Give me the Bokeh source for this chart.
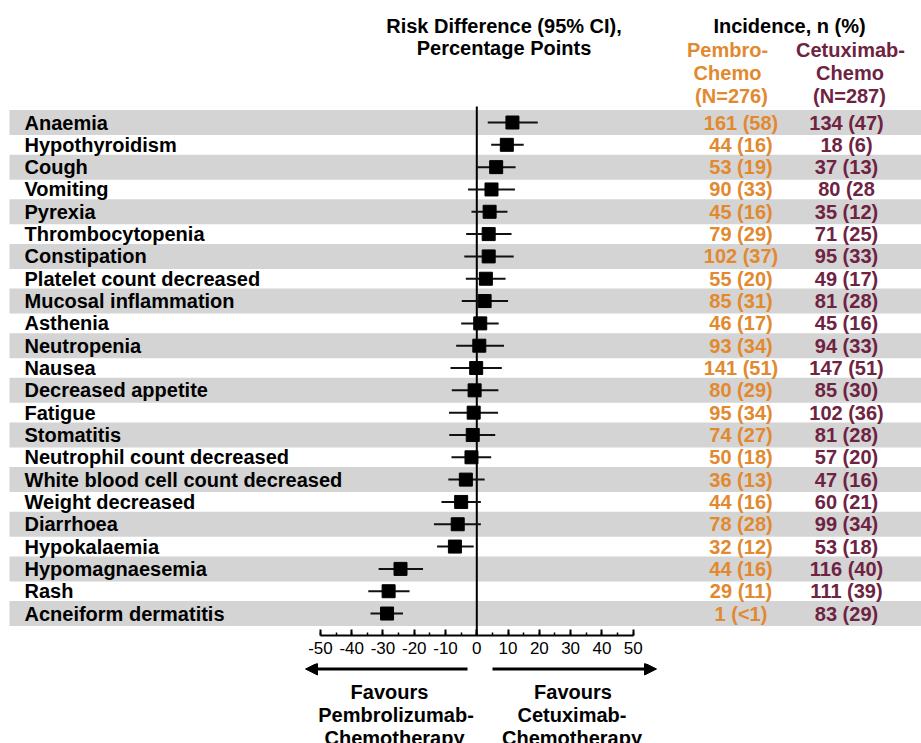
from bokeh.plotting import figure
from bokeh.models import ColumnDataSource, Range1d, FixedTicker, Arrow, NormalHead
from bokeh.layouts import column
from bokeh.embed import file_html
from bokeh.resources import INLINE
from bokeh.core.properties import value

# ---------------- data ----------------
events = ["Anaemia", "Hypothyroidism", "Cough", "Vomiting", "Pyrexia",
          "Thrombocytopenia", "Constipation", "Platelet count decreased",
          "Mucosal inflammation", "Asthenia", "Neutropenia", "Nausea",
          "Decreased appetite", "Fatigue", "Stomatitis",
          "Neutrophil count decreased", "White blood cell count decreased",
          "Weight decreased", "Diarrhoea", "Hypokalaemia", "Hypomagnaesemia",
          "Rash", "Acneiform dermatitis"]
risk_diff = [11.4, 9.6, 6.2, 4.7, 4.1, 3.8, 3.8, 2.9, 2.5, 1.1, 0.8, -0.2,
             -0.7, -1.0, -1.3, -1.7, -3.5, -5.0, -6.1, -7.0, -24.4, -28.2, -28.7]
ci_low = [3.5, 4.6, 0.1, -2.8, -1.7, -3.4, -4.0, -3.5, -4.8, -5.0, -6.6, -8.4,
          -8.0, -8.9, -8.8, -8.1, -9.1, -11.3, -13.7, -12.7, -31.4, -34.7, -34.0]
ci_high = [19.5, 15.0, 12.4, 12.2, 9.8, 11.1, 11.8, 9.2, 10.0, 7.0, 8.7, 8.0,
           6.9, 6.8, 5.9, 4.6, 2.5, 1.3, 1.3, -1.0, -17.2, -21.5, -23.6]
pembro_incidence = ["161 (58)", "44 (16)", "53 (19)", "90 (33)", "45 (16)",
                    "79 (29)", "102 (37)", "55 (20)", "85 (31)", "46 (17)",
                    "93 (34)", "141 (51)", "80 (29)", "95 (34)", "74 (27)",
                    "50 (18)", "36 (13)", "44 (16)", "78 (28)", "32 (12)",
                    "44 (16)", "29 (11)", "1 (<1)"]
cetux_incidence = ["134 (47)", "18 (6)", "37 (13)", "80 (28", "35 (12)",
                   "71 (25)", "95 (33)", "49 (17)", "81 (28)", "45 (16)",
                   "94 (33)", "147 (51)", "85 (30)", "102 (36)", "81 (28)",
                   "57 (20)", "47 (16)", "60 (21)", "99 (34)", "53 (18)",
                   "116 (40)", "111 (39)", "83 (29)"]
x_ticks = [-50, -40, -30, -20, -10, 0, 10, 20, 30, 40, 50]
x_minor_ticks = list(range(-50, 51, 5))

# ---------------- layout helpers (page pixels -> data units) ----------------
PX_PER_UNIT = 3.127
ZERO_PAGE_X = 476.3
ROW_PITCH = 22.32
ROW0_PAGE_Y = 122.0


def x_of(page_x):
    return (page_x - ZERO_PAGE_X) / PX_PER_UNIT


def row_of(page_y):
    return (page_y - ROW0_PAGE_Y) / ROW_PITCH


FONT = value("Liberation Sans")
BIG = "20px"
ORANGE = "#E2892F"
PURPLE = "#6E2342"
BAND = "#D4D4D4"

PAGE_W = 921
FRAME_TOP, FRAME_BOTTOM = 0, 635
A_BORDER = 28
B_TOP = FRAME_BOTTOM + A_BORDER
B_BOTTOM = 743

x_range = Range1d(x_of(0), x_of(PAGE_W))

p = figure(frame_width=PAGE_W, frame_height=FRAME_BOTTOM - FRAME_TOP,
           x_range=x_range,
           y_range=Range1d(row_of(FRAME_BOTTOM), row_of(FRAME_TOP)),
           output_backend="svg", toolbar_location=None,
           y_axis_location=None, min_border=0, min_border_bottom=A_BORDER)
p.outline_line_color = None
p.xgrid.visible = False
p.ygrid.visible = False

rows = list(range(len(events)))
src = ColumnDataSource(dict(y=rows, event=events, rd=risk_diff, lo=ci_low,
                            hi=ci_high, pem=pembro_incidence,
                            cet=cetux_incidence))

# alternating bands
band_rows = rows[::2]
p.hbar(y=band_rows, left=x_of(9), right=x_of(940), height=25 / ROW_PITCH,
       fill_color=BAND, line_color=None)

# zero line
p.segment(x0=[0], x1=[0], y0=[row_of(106)], y1=[row_of(640)],
          line_color="black", line_width=2)

# CI whiskers and point estimates
p.segment(x0="lo", x1="hi", y0="y", y1="y", source=src,
          line_color="#111111", line_width=2)
p.scatter(x="rd", y="y", source=src, marker="square", size=13,
          fill_color="black", line_color="black")

# row labels and incidence columns
p.text(x=x_of(24), y="y", text="event", source=src, text_font=FONT,
       text_font_size=BIG, text_font_style="bold", text_align="left",
       text_baseline="middle", text_color="black")
p.text(x=x_of(740.5), y="y", text="pem", source=src, text_font=FONT,
       text_font_size=BIG, text_font_style="bold", text_align="center",
       text_baseline="middle", text_color=ORANGE)
p.text(x=x_of(846), y="y", text="cet", source=src, text_font=FONT,
       text_font_size=BIG, text_font_style="bold", text_align="center",
       text_baseline="middle", text_color=PURPLE)

# header texts
headers = [
    ("Risk Difference (95% CI),", 503.5, 25, "black"),
    ("Percentage Points", 503.5, 47, "black"),
    ("Incidence, n (%)", 789, 25, "black"),
    ("Pembro-", 727, 49, ORANGE),
    ("Chemo", 727, 72.5, ORANGE),
    ("(N=276)", 731, 95, ORANGE),
    ("Cetuximab-", 850, 49, PURPLE),
    ("Chemo", 849.5, 72.5, PURPLE),
    ("(N=287)", 849, 95, PURPLE),
]
for txt, hx, hy, col in headers:
    p.text(x=[x_of(hx)], y=[row_of(hy)], text=[txt], text_font=FONT,
           text_font_size=BIG, text_font_style="bold", text_align="center",
           text_baseline="middle", text_color=col)

# x axis
ax = p.xaxis[0]
ax.ticker = FixedTicker(ticks=x_ticks, minor_ticks=x_minor_ticks)
ax.bounds = (-50, 50)
ax.major_tick_in = 6
ax.major_tick_out = 0
ax.minor_tick_in = 3
ax.minor_tick_out = 0
ax.axis_line_width = 2
ax.major_tick_line_width = 2
ax.minor_tick_line_width = 1.5
ax.major_label_standoff = 6
ax.major_label_text_font = "Liberation Sans"
ax.major_label_text_font_size = "17px"
ax.major_label_text_color = "black"
ax.major_label_overrides = {t: str(t) for t in x_ticks}

# ---------------- lower panel: direction arrows ----------------
q = figure(frame_width=PAGE_W, frame_height=B_BOTTOM - B_TOP, x_range=x_range,
           y_range=Range1d(row_of(B_BOTTOM), row_of(B_TOP)),
           output_backend="svg", toolbar_location=None,
           x_axis_location=None, y_axis_location=None, min_border=0)
q.outline_line_color = None
q.xgrid.visible = False
q.ygrid.visible = False

arrow_y = row_of(668.5)
q.add_layout(Arrow(end=NormalHead(size=12, fill_color="black",
                                  line_color="black"),
                   x_start=x_of(467), y_start=arrow_y,
                   x_end=x_of(305), y_end=arrow_y,
                   line_width=3, line_color="black"))
q.add_layout(Arrow(end=NormalHead(size=12, fill_color="black",
                                  line_color="black"),
                   x_start=x_of(492), y_start=arrow_y,
                   x_end=x_of(656), y_end=arrow_y,
                   line_width=3, line_color="black"))

favours = [
    ("Favours", 389, 691), ("Pembrolizumab-", 395.5, 714),
    ("Chemotherapy", 394, 737),
    ("Favours", 572.5, 691), ("Cetuximab-", 571.5, 714),
    ("Chemotherapy", 571.5, 737),
]
for txt, fx, fy in favours:
    q.text(x=[x_of(fx)], y=[row_of(fy)], text=[txt], text_font=FONT,
           text_font_size=BIG, text_font_style="bold", text_align="center",
           text_baseline="middle", text_color="black")

layout = column(p, q, spacing=0)
open("out.html", "w").write(file_html(layout, INLINE))
